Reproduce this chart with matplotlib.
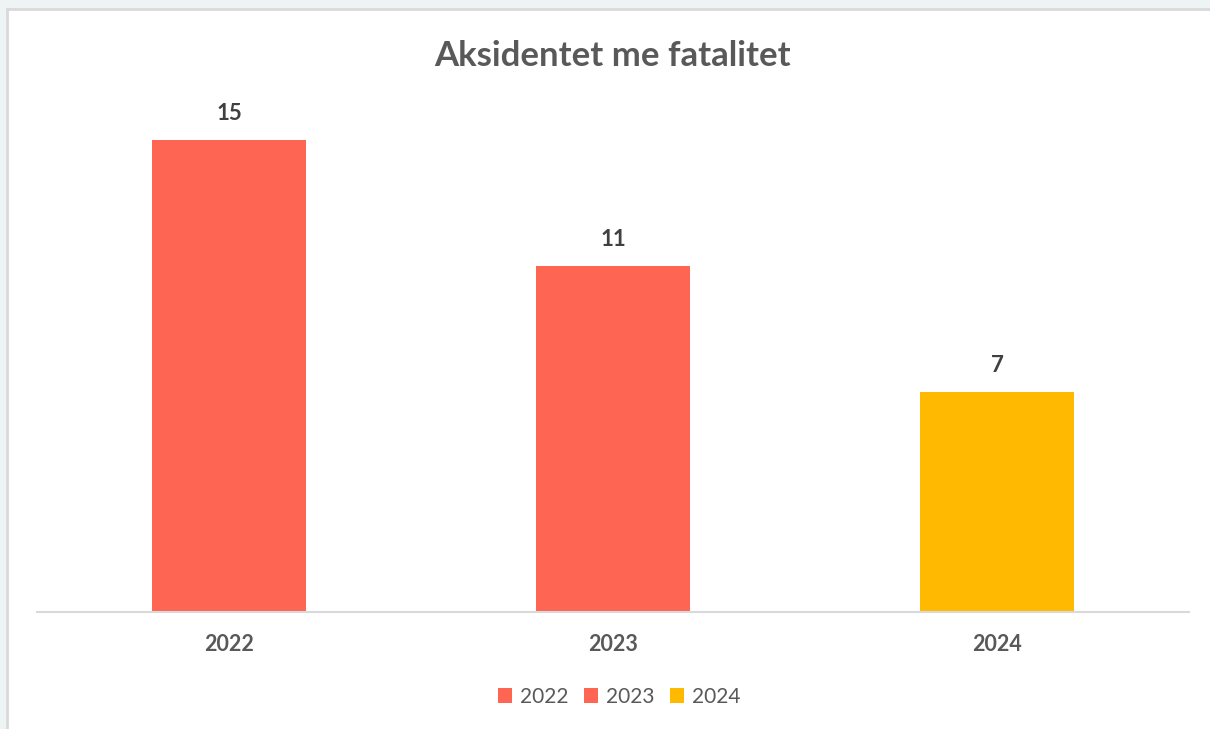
import matplotlib.pyplot as plt
from matplotlib.patches import Rectangle, Patch

# data
years = ['2022', '2023', '2024']
fatalities = [15, 11, 7]
bar_colors = ['#FF6553', '#FF6553', '#FFB900']

plt.rcParams['font.family'] = ['Lato', 'DejaVu Sans']

fig = plt.figure(figsize=(12.1, 7.29), dpi=100)
fig.patch.set_facecolor('white')

# frame like the screenshot (light band on top, grey line on the left)
fig.add_artist(Rectangle((0, 1 - 9 / 729), 1, 9 / 729, transform=fig.transFigure,
                         facecolor='#EEF3F3', edgecolor='none'))
fig.add_artist(Rectangle((0, 0), 6 / 1210, 1, transform=fig.transFigure,
                         facecolor='#EEF3F3', edgecolor='none'))
fig.add_artist(plt.Line2D([7 / 1210, 7 / 1210], [0, 1 - 9 / 729], transform=fig.transFigure,
                          color='#D9D9D9', lw=2))
fig.add_artist(plt.Line2D([7 / 1210, 1], [1 - 9 / 729, 1 - 9 / 729], transform=fig.transFigure,
                          color='#D9D9D9', lw=2))

ax = fig.add_axes([37 / 1210, 117 / 729, 1152 / 1210, 504 / 729])
x = range(len(years))
bars = ax.bar(x, fatalities, width=0.4, color=bar_colors)
ax.bar_label(bars, padding=11, fontsize=16, fontweight='bold', color='#404040')

ax.set_xlim(-0.5, 2.5)
ax.set_ylim(0, 16)
ax.set_xticks(list(x))
ax.set_xticklabels(years, fontsize=15.5, fontweight='bold', color='#595959')
ax.tick_params(axis='x', length=0, pad=16)
ax.set_yticks([])
for s in ['top', 'right', 'left']:
    ax.spines[s].set_visible(False)
ax.spines['bottom'].set_color('#D9D9D9')
ax.spines['bottom'].set_linewidth(1.5)

fig.text(0.5066, 1 - 56 / 729, 'Aksidentet me fatalitet', ha='center', va='center',
         fontsize=25, fontweight='bold', color='#595959')

handles = [Patch(facecolor=c, label=y) for c, y in zip(bar_colors, years)]
fig.legend(handles=handles, loc='center', bbox_to_anchor=(0.5115, 1 - 697 / 729), ncol=3,
           frameon=False, fontsize=15, handlelength=0.7, handleheight=0.7,
           handletextpad=0.35, columnspacing=0.75, labelcolor='#595959')

fig.savefig('out.png', dpi=100, facecolor=fig.get_facecolor())
